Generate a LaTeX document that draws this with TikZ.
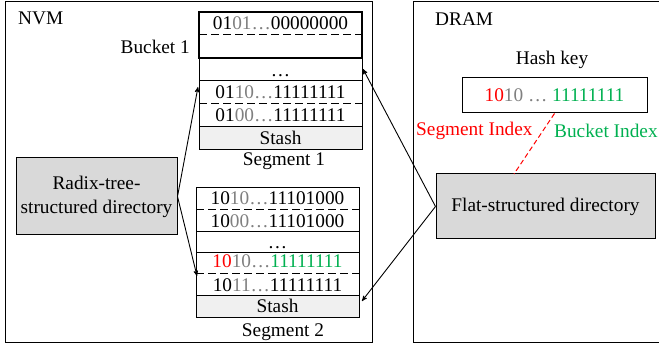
\documentclass[tikz,border=0pt]{standalone}
\usepackage{fontspec}
\setmainfont{Liberation Serif}
\usetikzlibrary{arrows,positioning}
\definecolor{segred}{RGB}{255,0,0}
\definecolor{bktgreen}{RGB}{0,176,80}
\definecolor{bitgray}{RGB}{128,128,128}
\definecolor{dirfill}{RGB}{217,217,217}
\definecolor{stashfill}{RGB}{240,240,240}
\newcommand{\bits}[3]{#1\textcolor{bitgray}{#2…}#3}

\begin{document}
\begin{tikzpicture}[>=stealth', x=1pt, y=-1pt,
    every node/.style={font=\fontsize{19.3}{24}\selectfont, inner sep=0pt},
    txt/.style={anchor=base},
    rowline/.style={line width=1pt},
    rowdash/.style={line width=1pt, dash pattern=on 8pt off 4pt},
    pointer/.style={->, line width=0.9pt},
    dirbox/.style={draw, line width=1pt, fill=dirfill, align=center}]
  \useasboundingbox (0,0) rectangle (659,347);
  % Draw memory regions
  \draw[rowline] (5,2) rectangle (372,343);
  \draw[rowline] (659,2) -- (413,2) -- (413,343) -- (659,343);
  \node[anchor=base west] (nvm) at (18,25) {NVM};
  \node[anchor=base west] (dram) at (435,26) {DRAM};

  % segment 1
  \fill[stashfill] (199,127) rectangle (362,150);
  \draw[rowline] (199,58) rectangle (362,150);
  \draw[rowline] (199,81) -- (362,81) (199,127) -- (362,127);
  \draw[rowdash] (199,35) -- (362,35) (199,104) -- (362,104);
  \draw[line width=1.6pt] (199,12) rectangle (362,58);
  \node[txt] (s1r1) at (280.5,30) {\bits{01}{01}{00000000}};
  \node[txt] (s1dots) at (280.5,77) {…};
  \node[txt] (s1r3) at (280.5,99) {\bits{01}{10}{11111111}};
  \node[txt] (s1r4) at (280.5,122) {\bits{01}{00}{11111111}};
  \node[txt] (s1stash) at (280.5,145) {Stash};
  \node[txt] (seg1) at (284,166) {Segment 1};
  \node[anchor=base east] (bkt1) at (190,54) {Bucket 1};

  % segment 2
  \fill[stashfill] (196,296) rectangle (359,318);
  \draw[rowline] (196,188) rectangle (359,318);
  \draw[rowline] (196,232) -- (359,232) (196,253) -- (359,253)
                 (196,296) -- (359,296);
  \draw[rowdash] (196,210) -- (359,210) (196,274) -- (359,274);
  \node[txt] (s2r1) at (277.5,205) {\bits{10}{10}{11101000}};
  \node[txt] (s2r2) at (277.5,228) {\bits{10}{00}{11101000}};
  \node[txt] (s2dots) at (277.5,249) {…};
  \node[txt] (s2r4) at (277.5,268)
    {\bits{\textcolor{segred}{10}}{10}{\textcolor{bktgreen}{11111111}}};
  \node[txt] (s2r5) at (277.5,292) {\bits{10}{11}{11111111}};
  \node[txt] (s2stash) at (277.5,313) {Stash};
  \node[txt] (seg2) at (283,337) {Segment 2};

  % directories
  \node[dirbox, minimum width=161pt, minimum height=77pt] (radix) at (96.5,196.5)
    {Radix-tree-\\structured directory};
  \node[dirbox, minimum width=219pt, minimum height=65pt] (flat) at (545.5,206.5)
    {Flat-structured directory};

  % hash key
  \node[draw, line width=1pt, minimum width=185pt, minimum height=35pt] (hash) at (554.5,95.5)
    {\textcolor{segred}{10}\textcolor{bitgray}{10 … }\textcolor{bktgreen}{11111111}};
  \node[txt] (hashlbl) at (552,65) {Hash key};
  \node[anchor=base west, text=segred] (segidx) at (416,136) {Segment Index};
  \node[anchor=base west, text=bktgreen] (bktidx) at (554,138) {Bucket Index};
  \coordinate (fltop) at (514,174);
  \draw[segred, line width=1pt, dash pattern=on 5pt off 3pt] (hash.south) -- (fltop);

  % pointers
  \coordinate (s1in) at (198,87);
  \coordinate (s2in) at (197,276);
  \coordinate (s1out) at (363,69);
  \coordinate (s2out) at (362,301);
  \draw[pointer] (radix.east) -- (s1in);
  \draw[pointer] (radix.east) -- (s2in);
  \draw[pointer] (flat.west) -- (s1out);
  \draw[pointer] (flat.west) -- (s2out);
\end{tikzpicture}
\end{document}
